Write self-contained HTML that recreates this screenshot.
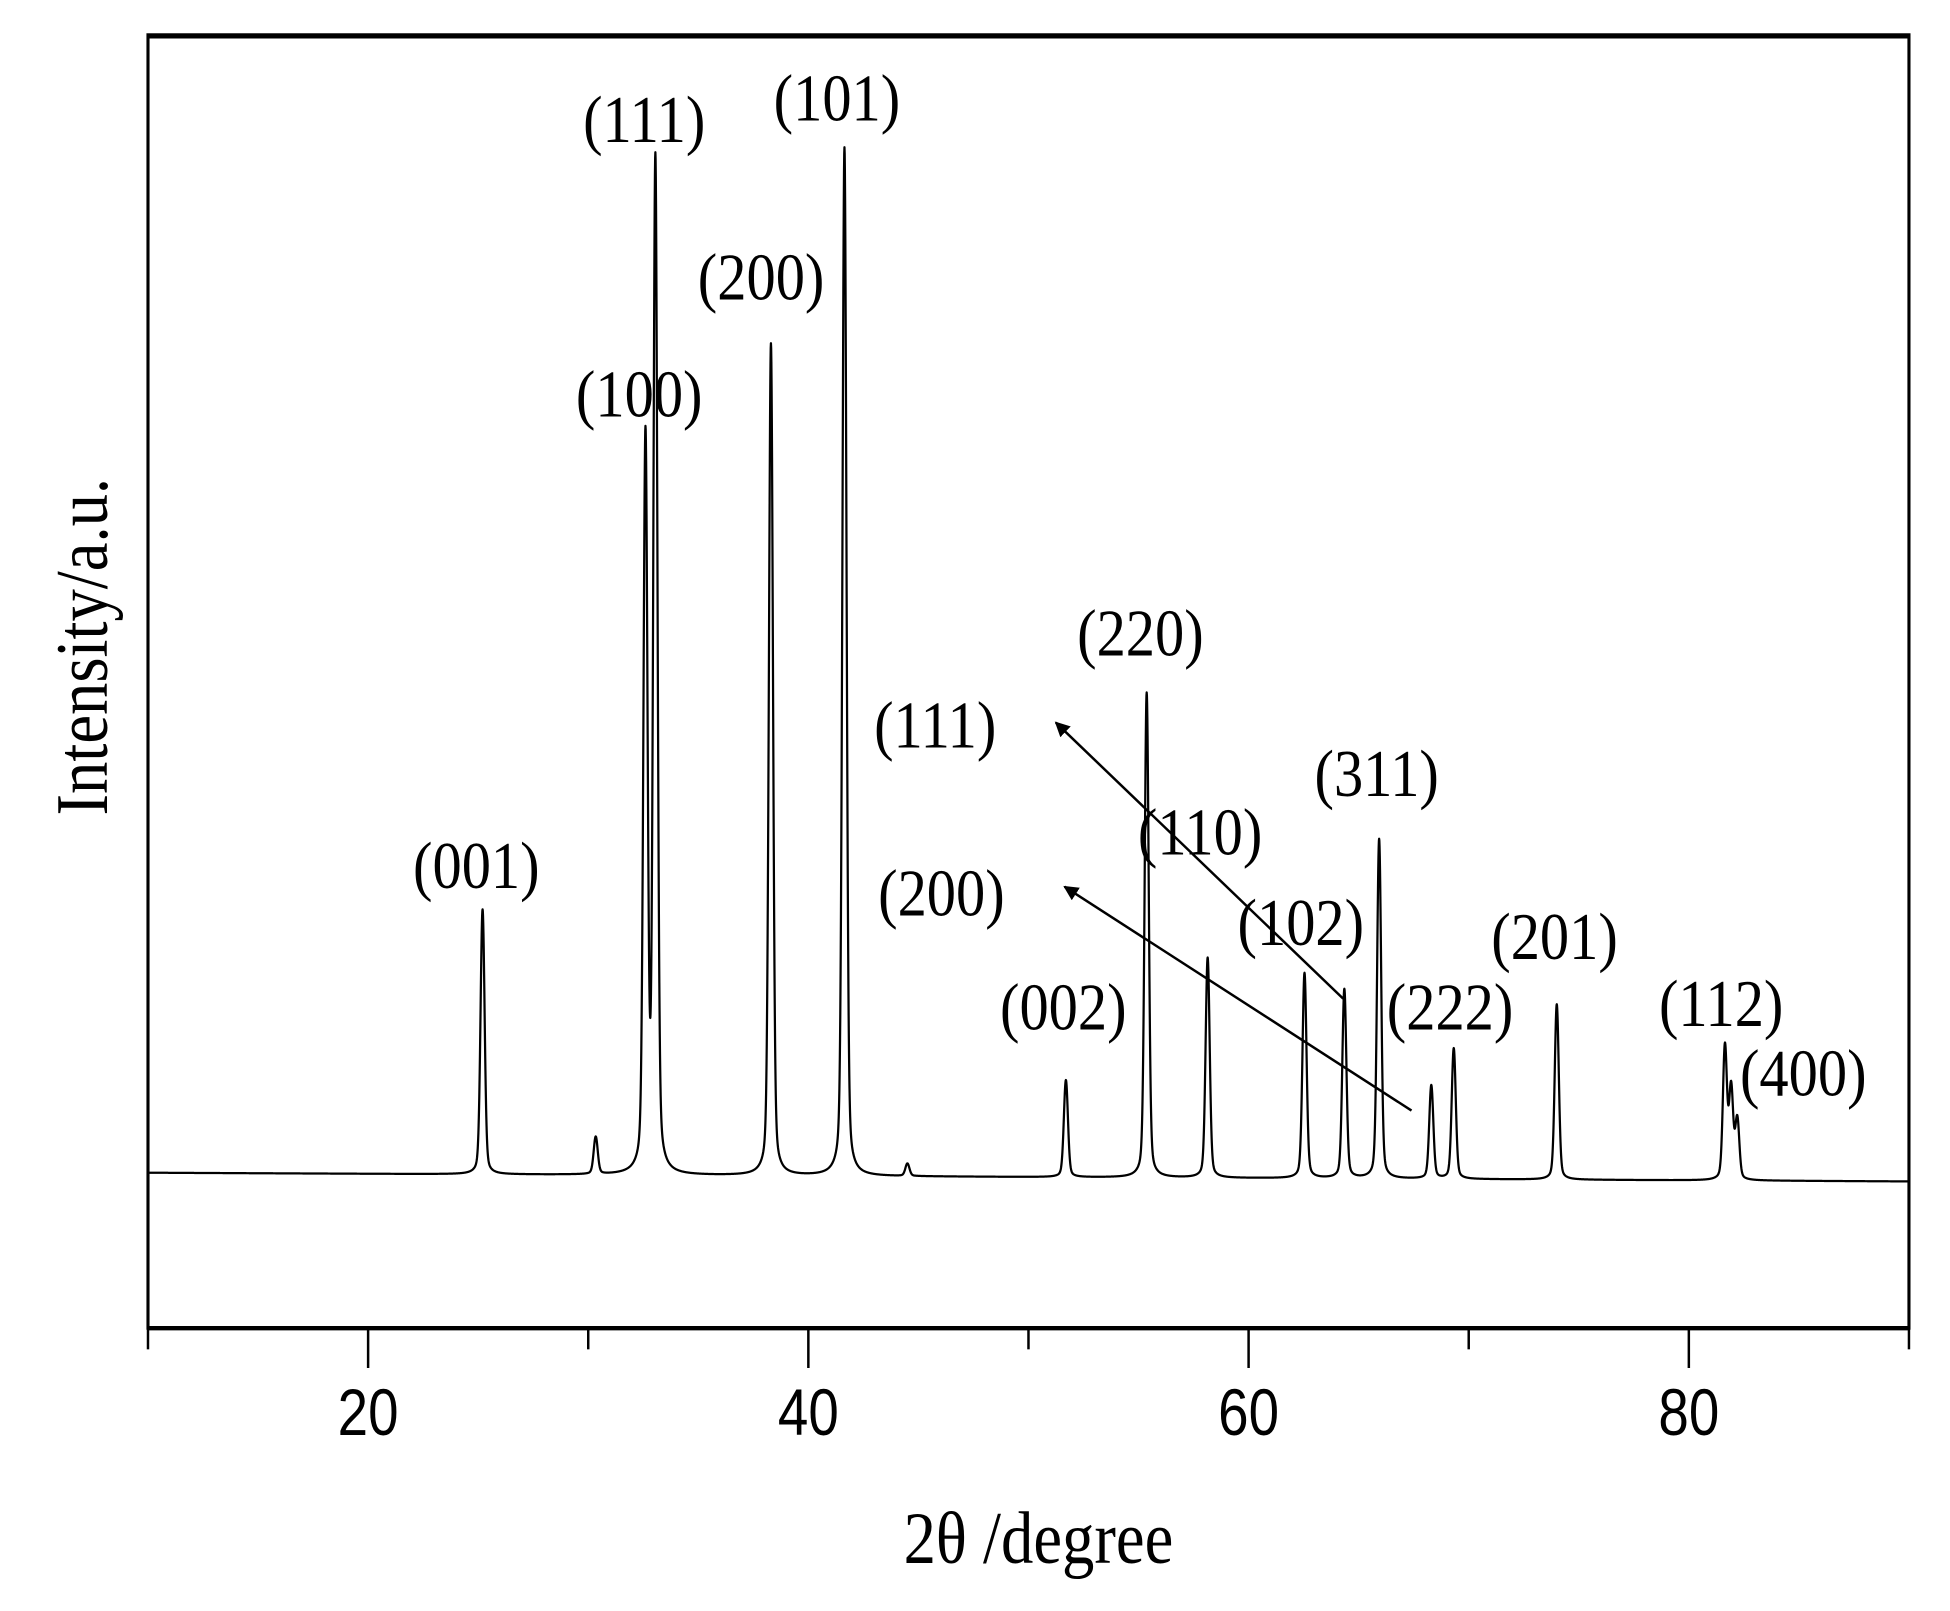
<!DOCTYPE html>
<html><head><meta charset="utf-8"><style>
html,body{margin:0;padding:0;background:#fff;}
svg{display:block;}
text{font-family:"Liberation Serif",serif;fill:#000;}
.tick{font-family:"Liberation Sans",sans-serif;font-size:44px;}
.lab{font-size:47px;}
</style></head><body>
<svg id="chart" width="1950" height="1611" viewBox="0 0 1568 1295.4" preserveAspectRatio="none" xmlns="http://www.w3.org/2000/svg">
<defs><marker id="ah" markerWidth="12" markerHeight="12" refX="9" refY="5" orient="auto" markerUnits="userSpaceOnUse" viewBox="0 0 10 10"><path d="M0,0 L10,5 L0,10 z" fill="#000"/></marker></defs>
<rect x="119" y="28" width="1416" height="1040" fill="none" stroke="#000" stroke-width="2.5"/>
<line x1="119" y1="29" x2="1535" y2="29" stroke="#000" stroke-width="4"/>
<line x1="119" y1="1068" x2="1535" y2="1068" stroke="#000" stroke-width="3.5"/>
<g id="ticks"></g>
<path id="pattern" fill="none" stroke="#000" stroke-width="1.8" stroke-linejoin="round"/>
<g id="labels"></g>
<line x1="1080" y1="803" x2="849" y2="581" stroke="#000" stroke-width="2" marker-end="url(#ah)"/>
<line x1="1135" y1="893" x2="856" y2="713" stroke="#000" stroke-width="2" marker-end="url(#ah)"/>
<text transform="translate(835,1257) scale(1,1.15)" text-anchor="middle" font-size="52">2θ /degree</text>
<text transform="translate(86,520) rotate(-90) scale(1,1.15)" text-anchor="middle" font-size="52">Intensity/a.u.</text>
</svg>
<script>
const peakPositions=[25.2,30.34,32.6,33.05,38.3,41.64,44.5,51.7,55.37,58.14,62.54,64.35,65.93,68.3,69.32,74.0,81.64,81.92,82.2];
const peakHeights=[213,30,588,812,669,827,10,78,390,177,165,152,273,75,105,141,107,73,48];
const tickValues=[20,40,60,80];
const tickLabels=["20","40","60","80"];
const minorTicks=[10,30,50,70,90];
const peakLabels=["(111)","(101)","(200)","(100)","(001)","(220)","(111)","(110)","(311)","(200)","(102)","(002)","(222)","(201)","(112)","(400)"];
const labelX=[518,673,612,514,383,917,752,965,1107,757,1046,855,1166,1250,1384,1450];
const labelY=[95,78,222,316,695,508,582,668,621,717,741,809,809,752,806,862];

const X0=10,X1=90,PX0=119,PX1=1535;
const xs=v=>PX0+(v-X0)/(X1-X0)*(PX1-PX0);
const ys=v=>945-v;
const NS='http://www.w3.org/2000/svg';
function profile(t){
  let y=2-7*(t-X0)/(X1-X0);
  for(let i=0;i<peakPositions.length;i++){
    const d=(t-peakPositions[i]);
    const g=0.09;
    y+=peakHeights[i]*(0.8*Math.exp(-d*d/(2*g*g))+0.2/(1+(d/0.14)*(d/0.14)));
  }
  return y;
}
let d='';
for(let t=X0;t<=X1+1e-9;t+=0.01){d+=(d?'L':'M')+xs(t).toFixed(2)+','+ys(profile(t)).toFixed(2);}
document.getElementById('pattern').setAttribute('d',d);
const tg=document.getElementById('ticks');
tickValues.forEach((v,i)=>{
  const l=document.createElementNS(NS,'line');
  
  
  l.setAttribute('x1',xs(v));l.setAttribute('x2',xs(v));l.setAttribute('y1',1068);l.setAttribute('y2',1100);
  l.setAttribute('stroke','#000');l.setAttribute('stroke-width','2');tg.appendChild(l);
  const tx=document.createElementNS(NS,'text');
  
  
  tx.setAttribute('transform','translate('+xs(v)+',1154) scale(1,1.2)');
  tx.setAttribute('text-anchor','middle');tx.setAttribute('class','tick');
  tx.textContent=tickLabels[i];tg.appendChild(tx);
});
minorTicks.forEach(v=>{
  const l=document.createElementNS(NS,'line');
  
  
  l.setAttribute('x1',xs(v));l.setAttribute('x2',xs(v));l.setAttribute('y1',1068);l.setAttribute('y2',1085);
  l.setAttribute('stroke','#000');l.setAttribute('stroke-width','2');tg.appendChild(l);
});
const lg=document.getElementById('labels');
peakLabels.forEach((s,i)=>{
  const tx=document.createElementNS(NS,'text');
  
  
  tx.setAttribute('transform','translate('+labelX[i]+','+(labelY[i]+19)+') scale(1,1.15)');
  tx.setAttribute('text-anchor','middle');tx.setAttribute('class','lab');
  tx.textContent=s;lg.appendChild(tx);
});
</script>
</body></html>
